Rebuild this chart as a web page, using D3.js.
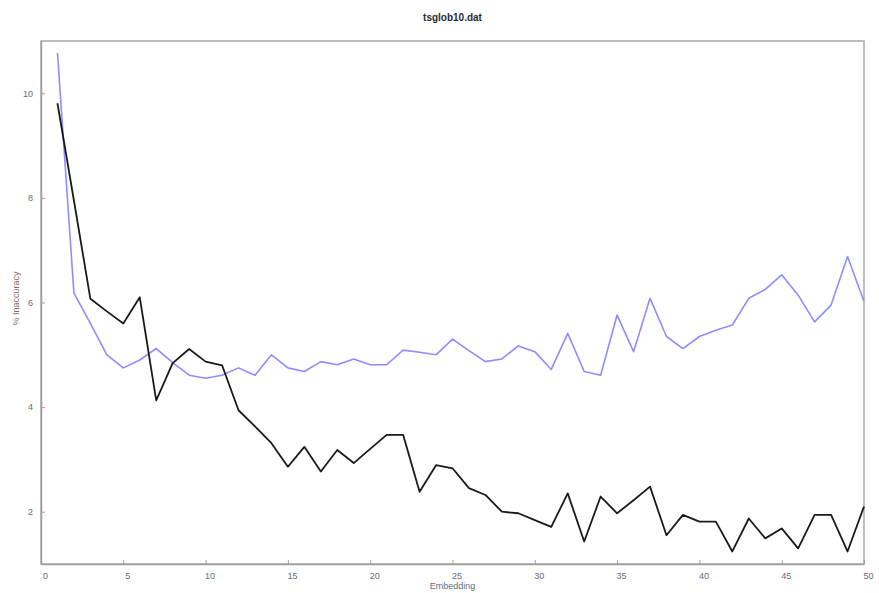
<!DOCTYPE html>
<html>
<head>
<meta charset="utf-8">
<script src="https://cdn.jsdelivr.net/npm/d3@7"></script>
<style>
  html, body { margin: 0; padding: 0; background: #fff; }
  svg { display: block; }
  text { font-family: "Liberation Sans", Arial, sans-serif; }
</style>
</head>
<body>
<svg id="chart" width="879" height="593"></svg>
<script>
// Embedding dimension 1..50
const embedding = d3.range(1, 51);

// Black series
const seriesBlack = [
  9.81, 7.95, 6.07, 5.83, 5.60, 6.10, 4.13, 4.84, 5.11, 4.87,
  4.80, 3.94, 3.63, 3.31, 2.86, 3.24, 2.77, 3.18, 2.93, 3.20,
  3.47, 3.47, 2.38, 2.89, 2.83, 2.45, 2.32, 2.00, 1.97, 1.84,
  1.71, 2.35, 1.43, 2.29, 1.97, 2.22, 2.48, 1.55, 1.94, 1.81,
  1.81, 1.24, 1.87, 1.49, 1.68, 1.30, 1.94, 1.94, 1.24, 2.10
];

// Blue series
const seriesBlue = [
  10.77, 6.18, 5.60, 5.00, 4.75, 4.90, 5.12, 4.85, 4.61, 4.55,
  4.61, 4.75, 4.61, 5.00, 4.75, 4.68, 4.87, 4.81, 4.92, 4.81,
  4.81, 5.09, 5.05, 5.00, 5.30, 5.08, 4.87, 4.92, 5.17, 5.06,
  4.72, 5.41, 4.68, 4.61, 5.76, 5.06, 6.08, 5.35, 5.12, 5.35,
  5.47, 5.57, 6.08, 6.25, 6.53, 6.14, 5.63, 5.95, 6.88, 6.02
];

const xTicks = [0, 5, 10, 15, 20, 25, 30, 35, 40, 45, 50];
const yTicks = [2, 4, 6, 8, 10];

const titleText = "tsglob10.dat";
const xLabelText = "Embedding";
const yLabelText = "% Inaccuracy";

const W = 879, H = 593;
const margin = { top: 41, right: 15, bottom: 29, left: 41 };
const iw = W - margin.left - margin.right;
const ih = H - margin.top - margin.bottom;

const svg = d3.select("#chart");
const g = svg.append("g").attr("transform", `translate(${margin.left},${margin.top})`);

const x = d3.scaleLinear().domain([0, 50]).range([0, iw]);
const y = d3.scaleLinear().domain([1, 11]).range([ih, 0]);

// Box around the plot area
g.append("rect")
  .attr("x", 0).attr("y", 0).attr("width", iw).attr("height", ih)
  .attr("fill", "none").attr("stroke", "#a8a8a8").attr("stroke-width", 1.5);

// Bottom axis, ticks pointing inward
const xAxis = g.append("g")
  .attr("transform", `translate(0,${ih})`)
  .call(d3.axisBottom(x).tickValues(xTicks).tickSizeInner(-4).tickSizeOuter(0).tickPadding(9));
xAxis.select(".domain").attr("stroke", "#a0a0a0").attr("stroke-width", 1.5);
xAxis.selectAll(".tick line").attr("stroke", "#a0a0a0");
xAxis.selectAll(".tick text").attr("fill", "#6a6a78").style("font-size", "9px").attr("dx", 4);

// Left axis, ticks pointing inward
const yAxis = g.append("g")
  .call(d3.axisLeft(y).tickValues(yTicks).tickSizeInner(-4).tickSizeOuter(0).tickPadding(8));
yAxis.select(".domain").attr("stroke", "#a0a0a0").attr("stroke-width", 1.5);
yAxis.selectAll(".tick line").attr("stroke", "#a0a0a0");
yAxis.selectAll(".tick text").attr("fill", "#6a6a78").style("font-size", "9px");

// Lines
const line = d3.line()
  .x((d, i) => x(embedding[i]))
  .y(d => y(d));

g.append("path")
  .datum(seriesBlue)
  .attr("fill", "none")
  .attr("stroke", "#8f8cff")
  .attr("stroke-width", 1.6)
  .attr("stroke-linejoin", "round")
  .attr("d", line);

g.append("path")
  .datum(seriesBlack)
  .attr("fill", "none")
  .attr("stroke", "#1a1a1a")
  .attr("stroke-width", 1.8)
  .attr("stroke-linejoin", "round")
  .attr("d", line);

// Title and axis labels
svg.append("text")
  .attr("x", margin.left + iw / 2)
  .attr("y", 21)
  .attr("text-anchor", "middle")
  .attr("fill", "#2a2a38")
  .style("font-size", "10px")
  .style("font-weight", "bold")
  .text(titleText);

svg.append("text")
  .attr("x", margin.left + iw / 2)
  .attr("y", 589)
  .attr("text-anchor", "middle")
  .attr("fill", "#6a6a78")
  .style("font-size", "9px")
  .text(xLabelText);

svg.append("text")
  .attr("transform", `translate(19,${margin.top + ih / 2 - 4}) rotate(-90)`)
  .attr("text-anchor", "middle")
  .attr("fill", "#7a6a6a")
  .style("font-size", "9px")
  .text(yLabelText);
</script>
</body>
</html>
